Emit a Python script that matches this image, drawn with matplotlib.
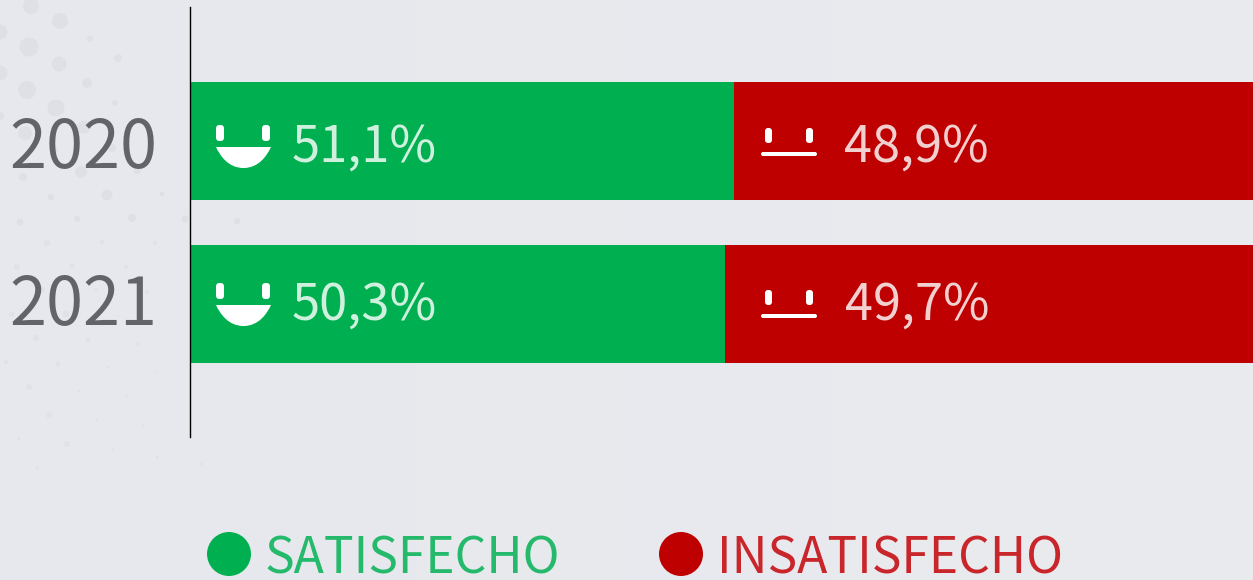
import matplotlib
matplotlib.use("Agg")
import matplotlib.pyplot as plt
import numpy as np
from matplotlib.colors import LinearSegmentedColormap
from matplotlib.patches import Circle, FancyBboxPatch, PathPatch
from matplotlib.path import Path
from matplotlib.transforms import IdentityTransform, ScaledTranslation

# ---- data ----
years = ["2020", "2021"]
satisfied = [51.1, 50.3]
unsatisfied = [48.9, 49.7]
satisfied_labels = ["51,1%", "50,3%"]
unsatisfied_labels = ["48,9%", "49,7%"]
legend_labels = ["SATISFECHO", "INSATISFECHO"]

# ---- layout (pixels from the top-left of the picture) ----
W, H = 1253, 580
plt.rcParams["font.family"] = ["Noto Sans CJK JP", "DejaVu Sans"]
GREEN, RED = "#00B050", "#BE0000"
BG = "#E8E9EE"
year_baselines = [168, 325]
value_baselines = [162, 320]
sat_text_x = [292, 292]
unsat_text_x = [844, 845]
smile_dy = [0, 158]
neutral_dy = [0, 162]
# background dots: x, y, radius
dots = [(31,6,8),(60,21,8),(0,32,7.5),(29,47,9.5),(59,64,7.5),(0,73,7.5),(27,90,9),(56,108,8.5),
        (90,39,3),(118,58,4),(87,83,5),(115,103,3),(0,116,4),(25,133,7),(84,127,6.5),(112,148,4),
        (55,150,3),(23,177,4),(81,172,6),(137,171,3.5),(51,197,3.5),(107,195,5.5),(162,194,2.5),
        (20,222,3.5),(77,219,3),(132,218,4),(185,219,3.5),(237,221,3.5),
        (47,243,3.5),(102,242,2.5),(155,243,2),(17,267,3),(72,266,2.5),(126,267,2),(42,290,3),
        (96,290,2),(147,292,2),(12,314,2.5),(66,314,3.5),(118,316,1),(168,320,1),(36,338,3),
        (88,340,2.5),(138,344,1.5),(6,362,2),(58,364,2.5),(108,367,1.5),(157,372,1),(29,387,3),
        (79,391,1.5),(127,396,1),(49,415,3),(97,420,1.5),(143,426,1.3),(19,439,1.5),(67,444,3),
        (113,450,1.5),(157,457,1.5),(37,468,1.5),(201,464,1.5)]

fig = plt.figure(figsize=(W/100, H/100), dpi=100, facecolor=BG)
px = IdentityTransform()
def P(x, y): return (x, H - y)
def add(p):
    p.set_transform(px)
    fig.add_artist(p)
    return p

# background: soft left-to-right shade, then the dots
bg_ax = fig.add_axes([0, 0, 1, 1], zorder=-10)
bg_ax.axis("off")
bg_cmap = LinearSegmentedColormap.from_list("bg", ["#E7E8ED", "#EAEBEF"])
bg_ax.imshow(np.linspace(0, 1, 256).reshape(1, -1), aspect="auto", cmap=bg_cmap, extent=(0, 1, 0, 1))
for x, y, r in dots:
    add(Circle(P(x, y), r, fc="#DFE0E5" if y < 235 else "#E1E2E7", ec="none", zorder=-4))

# axes
top, bot = 7, 437
ax = fig.add_axes([191/W, 1 - bot/H, 1 - 191/W, (bot - top)/H])
ax.patch.set_alpha(0)
ax.set_xlim(0, 100)
ax.set_ylim((bot - 141)/163, (top - 141)/163)
ypos = list(range(len(years)))
ax.barh(ypos, satisfied, height=118/163, color=GREEN, linewidth=0)
ax.barh(ypos, unsatisfied, left=satisfied, height=118/163, color=RED, linewidth=0)
ax.set_yticks(ypos, years)
ax.set_xticks([])
ax.tick_params(axis="y", length=0, pad=23.8, labelsize=48, labelcolor="#636467")
for s in ["top", "right", "bottom"]:
    ax.spines[s].set_visible(False)
ax.spines["left"].set_color("black")
ax.spines["left"].set_linewidth(1)
ax.spines["left"].set_position(("outward", 0.4))
for lab, c, base in zip(ax.get_yticklabels(), [141, 304], year_baselines):
    lab.set_va("baseline")
    lab.set_transform(lab.get_transform() + ScaledTranslation(0, (c - base)/100, fig.dpi_scale_trans))

# value labels
for i in ypos:
    fig.text(sat_text_x[i]/W, 1 - value_baselines[i]/H, satisfied_labels[i], color="white",
             alpha=0.82, fontsize=36.5, va="baseline", ha="left")
    fig.text(unsat_text_x[i]/W, 1 - value_baselines[i]/H, unsatisfied_labels[i], color="white",
             alpha=0.82, fontsize=36.3, va="baseline", ha="left")

# icons
def eye(x0, x1, y0, y1):
    r = (x1 - x0)/2 - 0.5
    add(FancyBboxPatch(P(x0 + r, y1 - r), (x1 - x0) - 2*r, (y1 - y0) - 2*r,
                       boxstyle=f"round,pad={r},rounding_size={r}", fc="white", ec="none", zorder=5))

def smile(dy):
    eye(216, 224, 125 + dy, 141 + dy)
    eye(262, 270, 125 + dy, 141 + dy)
    x0, x1, yt, yb = 216, 271, 147 + dy, 168 + dy
    xm = (x0 + x1)/2
    hw = (x1 - x0)/2
    k = 0.5523
    verts = [P(x0, yt),
             P(x0 + 0.15*hw, yt + (yb - yt)*0.42), P(xm - hw*k, yb), P(xm, yb),
             P(xm + hw*k, yb), P(x1 - 0.15*hw, yt + (yb - yt)*0.42), P(x1, yt),
             P(x0, yt)]
    codes = [Path.MOVETO, Path.CURVE4, Path.CURVE4, Path.CURVE4,
             Path.CURVE4, Path.CURVE4, Path.CURVE4, Path.CLOSEPOLY]
    add(PathPatch(Path(verts, codes), fc="white", ec="none", zorder=5))

def neutral(dy):
    eye(765, 772, 128 + dy, 143 + dy)
    eye(806, 813, 128 + dy, 143 + dy)
    add(FancyBboxPatch(P(763, 156 + dy - 2), 52, 0.01, boxstyle="round,pad=2,rounding_size=2",
                       fc="white", ec="none", zorder=5))

for i in ypos:
    smile(smile_dy[i])
    neutral(neutral_dy[i])

# legend
add(Circle(P(229, 554), 22, fc=GREEN, ec="none"))
add(Circle(P(681, 554), 22, fc=RED, ec="none"))
fig.text(265/W, 1 - 573/H, legend_labels[0], color="#25B96B", fontsize=35.8, va="baseline", ha="left")
fig.text(717/W, 1 - 573/H, legend_labels[1], color="#C8262A", fontsize=35.8, va="baseline", ha="left")

fig.savefig("out.png", dpi=100, facecolor=BG)
